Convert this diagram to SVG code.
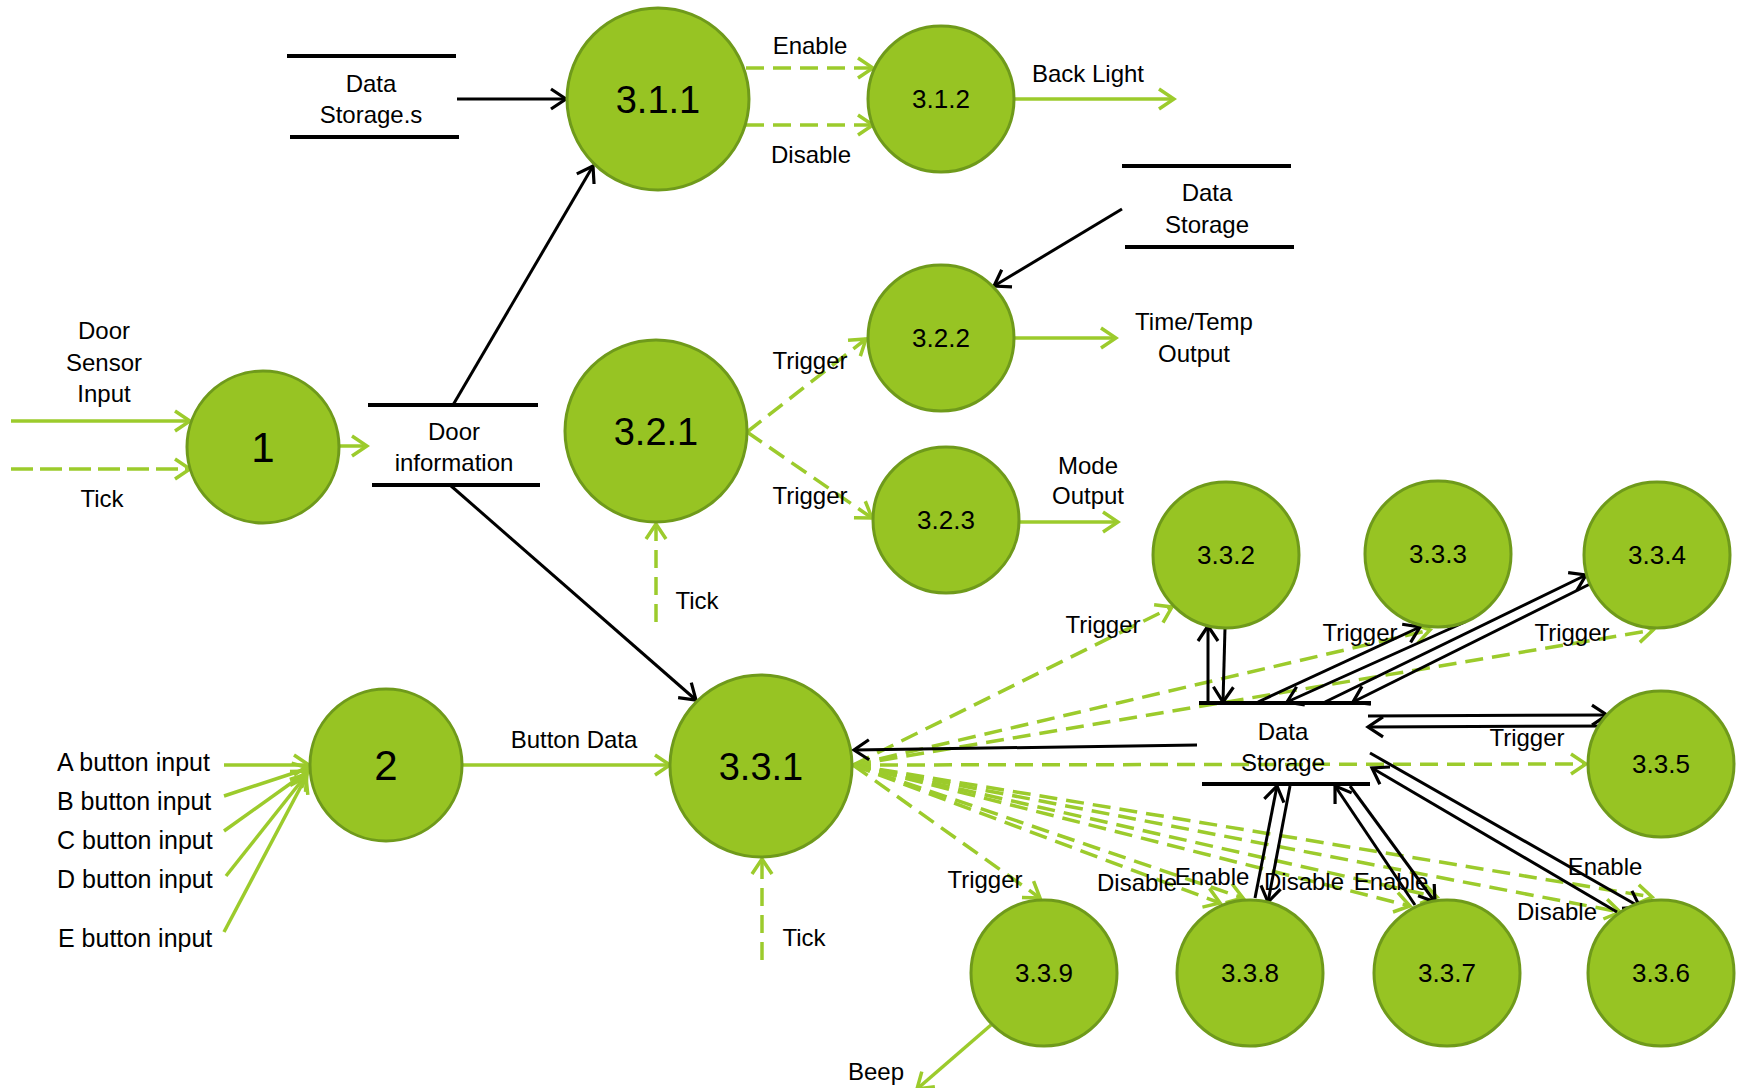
<svg xmlns="http://www.w3.org/2000/svg" width="1737" height="1088" viewBox="0 0 1737 1088">
  <style>
    .proc { fill: #97c423; stroke: #6f9a1b; stroke-width: 3; }
    .store { stroke: #000; stroke-width: 4; fill: none; }
    .lbl { font-family: "Liberation Sans", Arial, sans-serif; font-size: 24px; fill: #000; text-anchor: middle; }
    .lbl-start { font-family: "Liberation Sans", Arial, sans-serif; font-size: 25px; fill: #000; text-anchor: start; }
    .num { font-family: "Liberation Sans", Arial, sans-serif; font-size: 26px; fill: #000; text-anchor: middle; }
    .num-big { font-family: "Liberation Sans", Arial, sans-serif; font-size: 38px; fill: #000; text-anchor: middle; }
    .num-top { font-family: "Liberation Sans", Arial, sans-serif; font-size: 42px; fill: #000; text-anchor: middle; }
    .flow-k { stroke: #000; stroke-width: 3; fill: none; marker-end: url(#head-k); }
    .flow-g { stroke: #9ccb2c; stroke-width: 3.5; fill: none; marker-end: url(#head-g); }
    .flow-gd { stroke: #9ccb2c; stroke-width: 3.5; fill: none; stroke-dasharray: 18 9; marker-end: url(#head-g); }
  </style>
  <defs>
    <marker id="head-k" markerUnits="userSpaceOnUse" markerWidth="20" markerHeight="24" viewBox="0 0 20 24" refX="17" refY="12" orient="auto">
      <path d="M2,2 L17,12 L2,22" fill="none" stroke="#000" stroke-width="3.2" stroke-dasharray="none"/>
    </marker>
    <marker id="head-g" markerUnits="userSpaceOnUse" markerWidth="20" markerHeight="24" viewBox="0 0 20 24" refX="17" refY="12" orient="auto">
      <path d="M2,2 L17,12 L2,22" fill="none" stroke="#9ccb2c" stroke-width="3.5" stroke-dasharray="none"/>
    </marker>
  </defs>

  <rect width="1737" height="1088" fill="#fff"/>

  <!-- data flows -->
  <g id="connectors">
    <!-- inputs to process 1 -->
    <line class="flow-g" x1="11" y1="421" x2="190" y2="421"/>
    <line class="flow-gd" x1="11" y1="469" x2="190" y2="469" style="stroke-dasharray: 22 7"/>
    <line class="flow-g" x1="339" y1="446" x2="367" y2="446"/>
    <!-- door information store out -->
    <line class="flow-k" x1="453" y1="405" x2="593" y2="166"/>
    <line class="flow-k" x1="450" y1="485" x2="696" y2="700"/>
    <line class="flow-k" x1="457" y1="99" x2="566" y2="99"/>
    <!-- 3.1.x -->
    <line class="flow-gd" x1="746" y1="68" x2="873" y2="68"/>
    <line class="flow-gd" x1="746" y1="125" x2="873" y2="125"/>
    <line class="flow-g" x1="1014" y1="99" x2="1174" y2="99"/>
    <!-- 3.2.x -->
    <line class="flow-k" x1="1122" y1="209" x2="994" y2="286"/>
    <line class="flow-gd" x1="747" y1="432" x2="866" y2="339"/>
    <line class="flow-gd" x1="747" y1="432" x2="872" y2="518"/>
    <line class="flow-g" x1="1015" y1="338" x2="1116" y2="338"/>
    <line class="flow-g" x1="1020" y1="522" x2="1118" y2="522"/>
    <line class="flow-gd" x1="656" y1="622" x2="656" y2="524"/>
    <!-- button inputs -->
    <line class="flow-g" x1="224" y1="765" x2="309" y2="765"/>
    <line class="flow-g" x1="224" y1="796" x2="309" y2="768"/>
    <line class="flow-g" x1="224" y1="831" x2="308" y2="771"/>
    <line class="flow-g" x1="226" y1="876" x2="307" y2="774"/>
    <line class="flow-g" x1="224" y1="932" x2="306" y2="777"/>
    <line class="flow-g" x1="463" y1="765" x2="670" y2="765"/>
    <line class="flow-gd" x1="762" y1="960" x2="762" y2="859"/>
    <!-- 3.3.1 fan-out -->
    <line class="flow-gd" x1="853" y1="765" x2="1172" y2="607"/>
    <line class="flow-gd" x1="853" y1="765" x2="1430" y2="630"/>
    <line class="flow-gd" x1="853" y1="765" x2="1653" y2="630"/>
    <line class="flow-gd" x1="853" y1="765" x2="1586" y2="764"/>
    <line class="flow-gd" x1="853" y1="765" x2="1652" y2="897"/>
    <line class="flow-gd" x1="853" y1="765" x2="1620" y2="912"/>
    <line class="flow-gd" x1="853" y1="765" x2="1437" y2="897"/>
    <line class="flow-gd" x1="853" y1="765" x2="1410" y2="906"/>
    <line class="flow-gd" x1="853" y1="765" x2="1243" y2="898"/>
    <line class="flow-gd" x1="853" y1="765" x2="1220" y2="903"/>
    <line class="flow-gd" x1="853" y1="765" x2="1040" y2="898"/>
    <line class="flow-g" x1="991" y1="1025" x2="917" y2="1089"/>
    <!-- data storage exchanges -->
    <line class="flow-k" x1="1197" y1="745" x2="854" y2="750"/>
    <line class="flow-k" x1="1208" y1="702" x2="1208" y2="626"/>
    <line class="flow-k" x1="1225" y1="628" x2="1223" y2="702"/>
    <line class="flow-k" x1="1258" y1="702" x2="1420" y2="627"/>
    <polyline class="flow-k" points="1428,624 1465,622 1287,702"/>
    <line class="flow-k" x1="1325" y1="702" x2="1586" y2="575"/>
    <line class="flow-k" x1="1590" y1="584" x2="1353" y2="702"/>
    <line class="flow-k" x1="1368" y1="716" x2="1607" y2="715"/>
    <line class="flow-k" x1="1615" y1="726" x2="1368" y2="727"/>
    <line class="flow-k" x1="1370" y1="753" x2="1640" y2="907"/>
    <line class="flow-k" x1="1617" y1="912" x2="1372" y2="768"/>
    <line class="flow-k" x1="1415" y1="905" x2="1335" y2="786"/>
    <line class="flow-k" x1="1350" y1="786" x2="1435" y2="902"/>
    <line class="flow-k" x1="1255" y1="898" x2="1277" y2="786"/>
    <line class="flow-k" x1="1290" y1="786" x2="1268" y2="902"/>
  </g>

  <!-- data stores -->
  <g id="store-data-s">
    <line class="store" x1="287" y1="56" x2="456" y2="56"/>
    <line class="store" x1="290" y1="137" x2="459" y2="137"/>
    <text class="lbl" x="371" y="92">Data</text>
    <text class="lbl" x="371" y="123">Storage.s</text>
  </g>
  <g id="store-door-info">
    <line class="store" x1="368" y1="405" x2="538" y2="405"/>
    <line class="store" x1="372" y1="485" x2="540" y2="485"/>
    <text class="lbl" x="454" y="440">Door</text>
    <text class="lbl" x="454" y="471">information</text>
  </g>
  <g id="store-data-top">
    <line class="store" x1="1122" y1="166" x2="1291" y2="166"/>
    <line class="store" x1="1125" y1="247" x2="1294" y2="247"/>
    <text class="lbl" x="1207" y="201">Data</text>
    <text class="lbl" x="1207" y="233">Storage</text>
  </g>
  <g id="store-data-bottom">
    <line class="store" x1="1199" y1="703" x2="1371" y2="703"/>
    <line class="store" x1="1202" y1="784" x2="1370" y2="784"/>
    <text class="lbl" x="1283" y="740">Data</text>
    <text class="lbl" x="1283" y="771">Storage</text>
  </g>

  <!-- processes -->
  <g id="p1"><circle class="proc" cx="263" cy="447" r="76"/><text class="num-top" x="263" y="462">1</text></g>
  <g id="p2"><circle class="proc" cx="386" cy="765" r="76"/><text class="num-top" x="386" y="780">2</text></g>
  <g id="p311"><circle class="proc" cx="658" cy="99" r="91"/><text class="num-big" x="658" y="113">3.1.1</text></g>
  <g id="p312"><circle class="proc" cx="941" cy="99" r="73"/><text class="num" x="941" y="108">3.1.2</text></g>
  <g id="p321"><circle class="proc" cx="656" cy="431" r="91"/><text class="num-big" x="656" y="445">3.2.1</text></g>
  <g id="p322"><circle class="proc" cx="941" cy="338" r="73"/><text class="num" x="941" y="347">3.2.2</text></g>
  <g id="p323"><circle class="proc" cx="946" cy="520" r="73"/><text class="num" x="946" y="529">3.2.3</text></g>
  <g id="p331"><circle class="proc" cx="761" cy="766" r="91"/><text class="num-big" x="761" y="780">3.3.1</text></g>
  <g id="p332"><circle class="proc" cx="1226" cy="555" r="73"/><text class="num" x="1226" y="564">3.3.2</text></g>
  <g id="p333"><circle class="proc" cx="1438" cy="554" r="73"/><text class="num" x="1438" y="563">3.3.3</text></g>
  <g id="p334"><circle class="proc" cx="1657" cy="555" r="73"/><text class="num" x="1657" y="564">3.3.4</text></g>
  <g id="p335"><circle class="proc" cx="1661" cy="764" r="73"/><text class="num" x="1661" y="773">3.3.5</text></g>
  <g id="p336"><circle class="proc" cx="1661" cy="973" r="73"/><text class="num" x="1661" y="982">3.3.6</text></g>
  <g id="p337"><circle class="proc" cx="1447" cy="973" r="73"/><text class="num" x="1447" y="982">3.3.7</text></g>
  <g id="p338"><circle class="proc" cx="1250" cy="973" r="73"/><text class="num" x="1250" y="982">3.3.8</text></g>
  <g id="p339"><circle class="proc" cx="1044" cy="973" r="73"/><text class="num" x="1044" y="982">3.3.9</text></g>

  <!-- flow labels -->
  <g id="labels">
    <text class="lbl" x="104" y="339">Door</text>
    <text class="lbl" x="104" y="371">Sensor</text>
    <text class="lbl" x="104" y="402">Input</text>
    <text class="lbl" x="102" y="507">Tick</text>
    <text class="lbl" x="810" y="54">Enable</text>
    <text class="lbl" x="811" y="163">Disable</text>
    <text class="lbl" x="1088" y="82">Back Light</text>
    <text class="lbl" x="1194" y="330">Time/Temp</text>
    <text class="lbl" x="1194" y="362">Output</text>
    <text class="lbl" x="810" y="369">Trigger</text>
    <text class="lbl" x="810" y="504">Trigger</text>
    <text class="lbl" x="1088" y="474">Mode</text>
    <text class="lbl" x="1088" y="504">Output</text>
    <text class="lbl" x="697" y="609">Tick</text>
    <text class="lbl" x="574" y="748">Button Data</text>
    <text class="lbl-start" x="57" y="771">A button input</text>
    <text class="lbl-start" x="57" y="810">B button input</text>
    <text class="lbl-start" x="57" y="849">C button input</text>
    <text class="lbl-start" x="57" y="888">D button input</text>
    <text class="lbl-start" x="58" y="947">E button input</text>
    <text class="lbl" x="804" y="946">Tick</text>
    <text class="lbl" x="1103" y="633">Trigger</text>
    <text class="lbl" x="1360" y="641">Trigger</text>
    <text class="lbl" x="1572" y="641">Trigger</text>
    <text class="lbl" x="1527" y="746">Trigger</text>
    <text class="lbl" x="1605" y="875">Enable</text>
    <text class="lbl" x="1557" y="920">Disable</text>
    <text class="lbl" x="1391" y="890">Enable</text>
    <text class="lbl" x="1304" y="890">Disable</text>
    <text class="lbl" x="1212" y="885">Enable</text>
    <text class="lbl" x="1137" y="891">Disable</text>
    <text class="lbl" x="985" y="888">Trigger</text>
    <text class="lbl" x="876" y="1080">Beep</text>
  </g>
</svg>
